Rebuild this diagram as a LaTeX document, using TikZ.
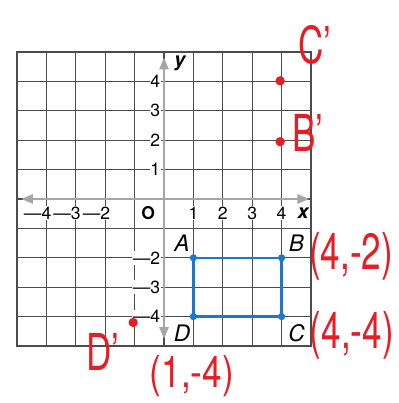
\documentclass[tikz,border=0pt]{standalone}
\usepackage{fontspec}
\setmainfont{TeX Gyre Heros}
\usetikzlibrary{arrows,positioning}
\definecolor{rectblue}{RGB}{28,120,205}
\definecolor{penred}{RGB}{232,28,36}
\newcommand{\penwrite}[1]{\scalebox{1}[1.45]{#1}}

\begin{document}
\begin{tikzpicture}[>=triangle 45, semithick]
    \tikzstyle{gridline}=[draw=black!70, line width=1.2pt]
    \tikzstyle{axis}=[draw=black!35, line width=1.6pt, <->]
    \tikzstyle{tick}=[fill=white, inner sep=0.6pt, font=\fontsize{17}{17}\selectfont]
    \tikzstyle{vertex}=[circle, fill=rectblue, inner sep=0pt, minimum size=7pt]
    \tikzstyle{reddot}=[circle, fill=penred, inner sep=0pt, minimum size=9pt]
    \tikzstyle{vname}=[inner sep=0pt, font=\fontsize{22}{22}\selectfont\itshape]
    \tikzstyle{scrawl}=[text=penred, inner sep=0pt, font=\fontsize{34}{34}\selectfont]

    \useasboundingbox (-5.58,-6.94) rectangle (7.99,6.77);

    \draw[gridline] (-5,-5) grid (5,5);
    \draw[draw=black!70, line width=1.8pt] (-5,-5) rectangle (5,5);

    % axes
    \coordinate (xl) at (-4.85,0);
    \coordinate (xr) at (4.93,0);
    \coordinate (yb) at (0,-4.75);
    \coordinate (yt) at (0,4.8);
    \draw[axis] (xl) -- (xr);
    \draw[axis] (yb) -- (yt);

    \foreach \i in {1,...,4}
        \node[tick] (xp\i) at (\i,-0.48) {\i};
    \foreach \i in {2,3,4}
        \node[tick] (xn\i) at (-\i,-0.48) {\llap{---}\i};
    \foreach \i in {1,...,4}
        \node[tick, anchor=east] (yp\i) at (-0.1,\i) {\i};
    \foreach \i in {2,3,4}
        \node[tick, anchor=east] (yn\i) at (-0.1,-\i) {---\i};

    \node[tick, font=\fontsize{17}{17}\selectfont\bfseries] (orig) at (-0.54,-0.48) {O};
    \node[tick, font=\fontsize{19}{19}\selectfont\bfseries\itshape] (xname) at (4.73,-0.48) {x};
    \node[tick, font=\fontsize{19}{19}\selectfont\bfseries\itshape] (yname) at (0.54,4.63) {y};

    % rectangle ABCD
    \coordinate (A) at (1,-2);
    \coordinate (B) at (4,-2);
    \coordinate (C) at (4,-4);
    \coordinate (D) at (1,-4);
    \draw[rectblue, line width=2.2pt] (A) -- (B) -- (C) -- (D) -- cycle;
    \foreach \p in {A,B,C,D}
        \node[vertex] (dot\p) at (\p) {};

    \node[vname, above left=0.2cm and 0.12cm of A] (nameA) {A};
    \node[vname, above right=0.2cm and 0.24cm of B] (nameB) {B};
    \node[vname, below right=0.26cm and 0.22cm of C] (nameC) {C};
    \node[vname, below left=0.26cm and 0.1cm of D] (nameD) {D};

    % red pen work
    \node[reddot] (Cp) at (3.95,4.02) {};
    \node[reddot] (Bp) at (3.95,1.95) {};
    \node[reddot] (Dp) at (-1.05,-4.2) {};

    \node[scrawl] (nameCp) at (5.14,5.24) {\penwrite{C'}};
    \node[scrawl] (nameBp) at (4.90,2.24) {\penwrite{B'}};
    \node[scrawl] (nameDp) at (-2.07,-5.20) {\penwrite{D'}};
    \node[scrawl] (Bxy) at (6.36,-1.94) {\penwrite{(4,-2)}};
    \node[scrawl] (Cxy) at (6.39,-4.63) {\penwrite{(4,-4)}};
    \node[scrawl] (Dxy) at (0.95,-6.02) {\scalebox{1}[1.25]{(1,-4)}};
\end{tikzpicture}
\end{document}
